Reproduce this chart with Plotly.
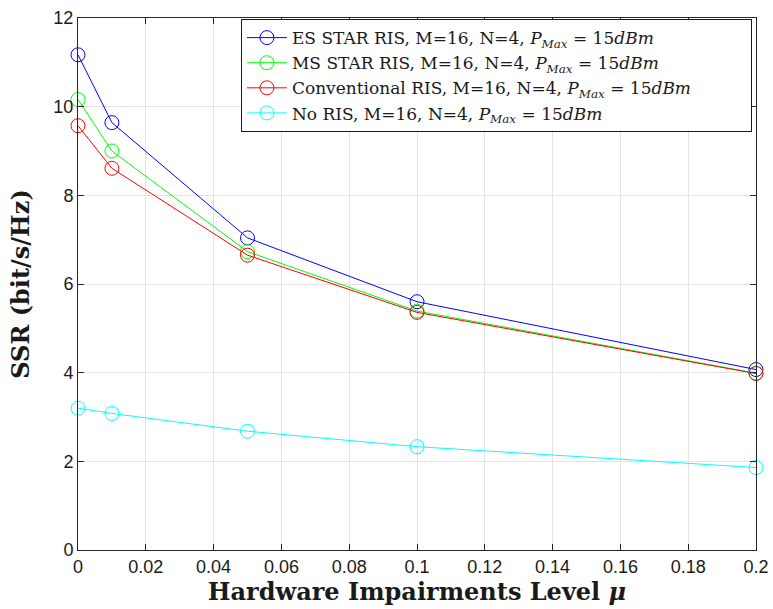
import plotly.graph_objects as go

mu = [0, 0.01, 0.05, 0.1, 0.2]
es_star = [11.17, 9.64, 7.04, 5.6, 4.07]
ms_star = [10.16, 9.0, 6.73, 5.39, 3.99]
conventional = [9.57, 8.61, 6.65, 5.36, 3.98]
no_ris = [3.2, 3.08, 2.68, 2.33, 1.86]

pm = "<i>P</i><sub><i>Max</i></sub> = 15<i>dBm</i>"
pad = "&nbsp;" * 10
names = [
    "ES STAR RIS, M=16, N=4, " + pm,
    "MS STAR RIS, M=16, N=4, " + pm,
    "Conventional RIS, M=16, N=4, " + pm + pad,
    "No RIS, M=16, N=4, " + pm,
]
series = [es_star, ms_star, conventional, no_ris]
colors = ["#0000FF", "#00FF00", "#FF0000", "#00FFFF"]

xticks = [0, 0.02, 0.04, 0.06, 0.08, 0.1, 0.12, 0.14, 0.16, 0.18, 0.2]
xticklabels = ["0", "0.02", "0.04", "0.06", "0.08", "0.1", "0.12", "0.14", "0.16", "0.18", "0.2"]
yticks = [0, 2, 4, 6, 8, 10, 12]

fig = go.Figure()
for i, (n, s, c) in enumerate(zip(names, series, colors)):
    fig.add_trace(go.Scatter(
        x=mu, y=s, name=n, mode="lines+markers",
        line=dict(color=c, width=1),
        marker=dict(symbol="circle-open", size=14, color=c, line=dict(width=1, color=c)),
        legendgroup=f"g{i}",
        cliponaxis=False,
    ))

axis_common = dict(
    showline=True, linecolor="#262626", linewidth=1, mirror="ticks",
    ticks="inside", ticklen=6, tickcolor="#262626",
    showgrid=True, gridcolor="#E3E3E3", gridwidth=1, zeroline=False,
    automargin=False,
    tickfont=dict(family="Liberation Sans, Arial, sans-serif", size=18, color="#1a1a1a"),
)
title_font = dict(family="DejaVu Serif, Liberation Serif, serif", size=24, color="#1a1a1a", weight="bold")

fig.update_layout(
    width=773, height=609,
    paper_bgcolor="white", plot_bgcolor="white",
    margin=dict(l=78, r=17, t=18, b=59),
    xaxis=dict(range=[0, 0.2], tickvals=xticks, ticktext=xticklabels,
               title=dict(text="Hardware Impairments Level <i>μ</i>", font=title_font, standoff=0),
               **axis_common),
    yaxis=dict(range=[0, 12], tickvals=yticks,
               title=dict(text="SSR (bit/s/Hz)", font=title_font, standoff=16),
               **axis_common),
    legend=dict(x=0.994, y=0.998, xanchor="right", yanchor="top",
                bgcolor="white", bordercolor="#1a1a1a", borderwidth=1,
                font=dict(family="DejaVu Serif, Liberation Serif, serif", size=17, color="#1a1a1a"),
                tracegroupgap=0, traceorder="normal", itemwidth=40),
    showlegend=True,
)

fig.write_html("out.html", config={"displayModeBar": False},
               post_script="document.body.style.margin='0';document.body.style.overflow='hidden';")
